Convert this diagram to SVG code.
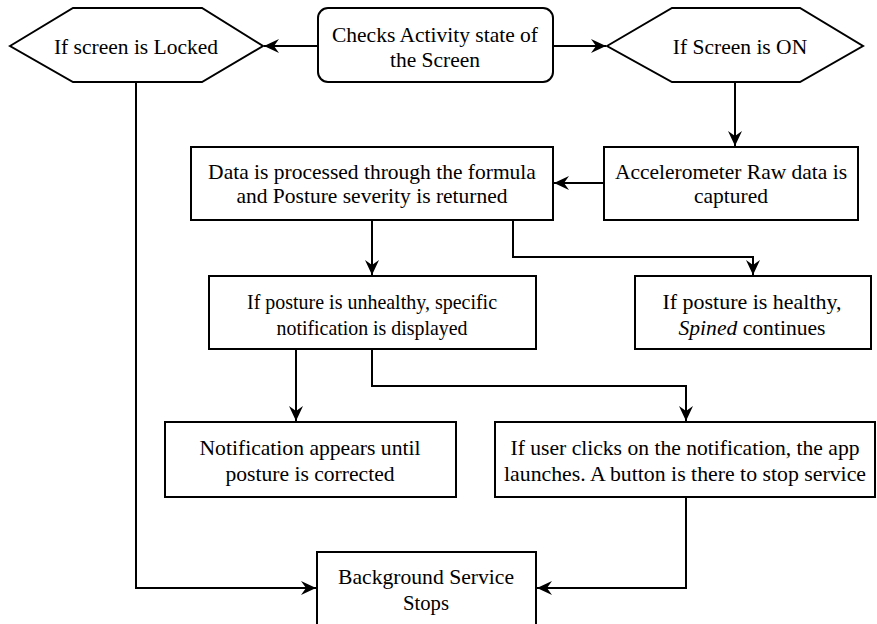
<svg xmlns="http://www.w3.org/2000/svg" width="877" height="624" viewBox="0 0 877 624">
<style>
.s{fill:#fff;stroke:#000;stroke-width:2}
.t{font-family:"Liberation Serif","Times New Roman",serif;font-size:21.5px;fill:#000;text-anchor:middle}
.c{font-family:"Liberation Serif","Times New Roman",serif;font-size:22px;fill:#000;text-anchor:middle}
.e{fill:none;stroke:#000;stroke-width:2}
</style>
<defs>
<marker id="a" markerUnits="userSpaceOnUse" markerWidth="18" markerHeight="18" viewBox="0 0 18 18" refX="15" refY="9" orient="auto">
<path d="M0,2 L15,9 L0,16 L5,9 Z" fill="#000"/>
</marker>
</defs>
<g id="connectors">
<path class="e" d="M317,46 H264" marker-end="url(#a)"/>
<path class="e" d="M553,46 H606" marker-end="url(#a)"/>
<path class="e" d="M735,82 V146" marker-end="url(#a)"/>
<path class="e" d="M604,183 H554" marker-end="url(#a)"/>
<path class="e" d="M372,220 V275" marker-end="url(#a)"/>
<path class="e" d="M513,220 V257 H753 V275" marker-end="url(#a)"/>
<path class="e" d="M296,349 V421" marker-end="url(#a)"/>
<path class="e" d="M372,349 V386 H686 V421" marker-end="url(#a)"/>
<path class="e" d="M686,497 V588 H537" marker-end="url(#a)"/>
<path class="e" d="M136,82 V588 H316" marker-end="url(#a)"/>
</g>
<g id="locked">
<polygon class="s" points="10,46 73,8 202,8 263,46 202,82 73,82"/>
<text class="t" x="136" y="54">If screen is Locked</text>
</g>
<g id="checks">
<rect class="s" x="318" y="8" width="235" height="74" rx="10"/>
<text class="t" x="435" y="42">Checks Activity state of</text>
<text class="t" x="435" y="67">the Screen</text>
</g>
<g id="screenon">
<polygon class="s" points="607,46 672,8 800,8 863,46 800,82 672,82"/>
<text class="t" x="740" y="54">If Screen is ON</text>
</g>
<g id="accel">
<rect class="s" x="604" y="147" width="254" height="73"/>
<text class="t" x="731" y="179">Accelerometer Raw data is</text>
<text class="t" x="731" y="203">captured</text>
</g>
<g id="process">
<rect class="s" x="191" y="147" width="362" height="73"/>
<text class="t" x="372" y="179">Data is processed through the formula</text>
<text class="t" x="372" y="203">and Posture severity is returned</text>
</g>
<g id="unhealthy">
<rect class="s" x="209" y="276" width="327" height="73"/>
<text class="c" x="372" y="309" textLength="250" lengthAdjust="spacingAndGlyphs">If posture is unhealthy, specific</text>
<text class="c" x="372" y="335" textLength="191" lengthAdjust="spacingAndGlyphs">notification is displayed</text>
</g>
<g id="healthy">
<rect class="s" x="635" y="276" width="236" height="73"/>
<text class="c" x="752" y="309" textLength="179" lengthAdjust="spacingAndGlyphs">If posture is healthy,</text>
<text class="c" x="752" y="335" textLength="147" lengthAdjust="spacingAndGlyphs"><tspan font-style="italic">Spined</tspan> continues</text>
</g>
<g id="notification">
<rect class="s" x="165" y="422" width="291" height="75"/>
<text class="c" x="310" y="455" textLength="221" lengthAdjust="spacingAndGlyphs">Notification appears until</text>
<text class="c" x="310" y="481" textLength="169" lengthAdjust="spacingAndGlyphs">posture is corrected</text>
</g>
<g id="userclick">
<rect class="s" x="495" y="422" width="380" height="75"/>
<text class="c" x="685" y="455" textLength="349" lengthAdjust="spacingAndGlyphs">If user clicks on the notification, the app</text>
<text class="c" x="685" y="481" textLength="362" lengthAdjust="spacingAndGlyphs">launches. A button is there to stop service</text>
</g>
<g id="stops">
<rect class="s" x="317" y="552" width="219" height="80"/>
<text class="c" x="426" y="584" textLength="176" lengthAdjust="spacingAndGlyphs">Background Service</text>
<text class="c" x="426" y="610" textLength="46" lengthAdjust="spacingAndGlyphs">Stops</text>
</g>
</svg>
